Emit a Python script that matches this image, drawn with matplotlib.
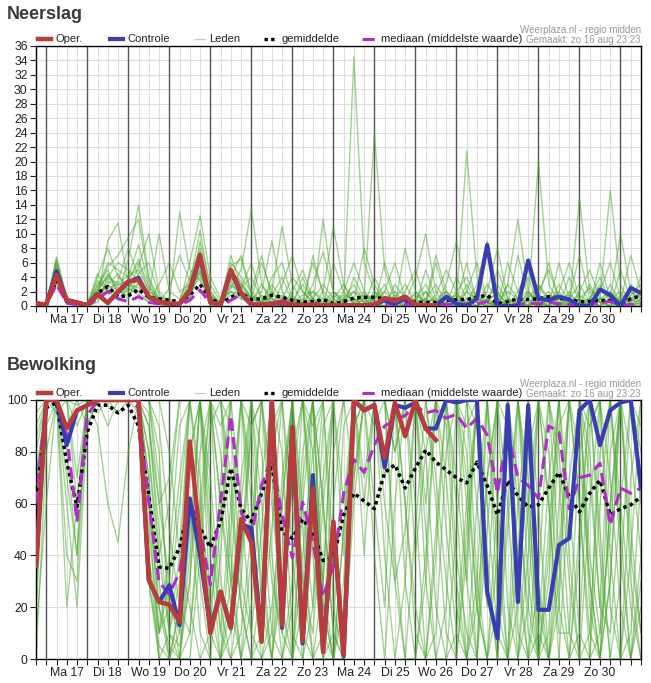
import numpy as np
import matplotlib.pyplot as plt
from matplotlib.lines import Line2D

plt.rcParams['font.family'] = ['Liberation Sans', 'DejaVu Sans']

W, H = 651, 683

# 6-hourly steps, t in days counted from ma 17 aug 00:00
steps = np.arange(60)
t = -0.25 + 0.25 * steps

day_labels = ["Ma 17", "Di 18", "Wo 19", "Do 20", "Vr 21", "Za 22", "Zo 23",
              "Ma 24", "Di 25", "Wo 26", "Do 27", "Vr 28", "Za 29", "Zo 30"]

# ---- Neerslag (mm) ----
rain_oper = [0.4, 0.2, 4.3, 0.8, 0.5, 0.1, 1.65, 0.4, 2.0, 3.4,
             3.6, 1.3, 0.6, 0.35, 0.3, 2.2, 7.1, 0.5, 0.2, 5.0,
             1.8, 0.2, 0.2, 0.3, 0.5, 0.2, 0.1, 0.2, 0.1, 0.1,
             0.1, 0.1, 0.1, 0.2, 1.1, 0.7, 1.3, 0.2, 0.1, 0.1]
rain_ctrl = [0.3, 0.2, 4.8, 0.8, 0.5, 0.1, 1.6, 0.5, 1.9, 3.3,
             3.9, 1.2, 0.6, 0.3, 0.3, 2.0, 6.8, 0.5, 0.2, 4.8,
             1.7, 0.2, 0.2, 0.3, 0.4, 0.2, 0.1, 0.2, 0.1, 0.1,
             0.1, 0.1, 0.1, 0.2, 0.8, 0.3, 1.0, 0.1, 0.1, 0.0,
             1.3, 0.3, 0.0, 1.0, 8.45, 0.0, 0.0, 0.0, 6.3, 1.0,
             0.8, 1.3, 0.9, 0.0, 0.0, 2.3, 1.5, 0.0, 2.5, 1.8]
rain_mean = [0.3, 0.3, 3.5, 0.6, 0.4, 0.2, 1.8, 2.7, 1.3, 1.4,
             2.3, 1.2, 1.0, 0.8, 0.6, 1.5, 3.0, 1.0, 0.3, 1.2,
             1.8, 0.9, 1.0, 1.5, 1.2, 0.8, 0.5, 0.6, 0.9, 0.3,
             0.6, 1.1, 1.2, 1.2, 1.0, 0.9, 0.7, 0.5, 0.5, 0.5,
             0.8, 0.9, 0.9, 1.2, 1.5, 0.3, 0.6, 1.0, 0.9, 1.0,
             1.3, 1.1, 0.9, 0.6, 0.6, 0.8, 0.7, 0.3, 1.0, 1.4]
rain_median = [0.1, 0.1, 3.0, 0.4, 0.2, 0.0, 1.0, 2.0, 1.0, 0.6,
               1.3, 0.5, 0.3, 0.2, 0.1, 0.8, 2.2, 0.4, 0.0, 0.8,
               1.6, 0.4, 0.2, 0.5, 0.7, 0.3, 0.1, 0.1, 0.2, 0.1,
               0.1, 0.2, 0.2, 0.2, 0.3, 0.2, 0.3, 0.1, 0.1, 0.1,
               0.2, 0.2, 0.3, 0.3, 0.6, 0.1, 0.1, 0.2, 0.4, 0.3,
               0.5, 0.3, 0.2, 0.2, 0.1, 0.5, 0.6, 0.1, 0.2, 0.3]
rain_members = [
    "0.3 0.2 5.5 0.8 0.3 0.0 2.0 4.5 2.0 1.5 3.0 1.0 0.5 0.2 0.0 1.5 6.0 1.0 0.0 3.0 2.0 1.0 0.5 3.0 1.0 0.0 0.5 2.0 1.0 0.0 0.5 34.5 6.0 2.0 1.0 0.5 0.0 1.0 3.0 0.5 0.0 2.0 4.0 1.0 0.5 0.0 3.0 1.0 0.0 2.0 5.0 1.0 0.5 0.0 1.0 3.0 0.5 0.0 2.0 1.0",
    "0.5 0.4 6.5 1.0 0.2 0.1 1.0 9.0 11.5 3.0 2.0 0.5 0.2 0.0 0.5 3.0 10.5 2.0 0.1 4.0 7.0 2.0 0.5 0.0 1.0 4.0 2.0 0.5 0.0 0.0 1.0 3.0 0.5 0.0 2.0 6.0 1.0 0.0 0.0 0.5 2.0 0.5 21.5 4.0 1.0 0.0 0.0 2.0 5.0 1.0 0.0 0.0 1.0 3.0 0.5 0.0 1.0 2.0 0.0 0.5",
    "0.2 0.1 4.0 0.5 0.2 0.0 3.0 5.0 1.5 6.5 14.0 4.0 1.0 0.2 0.0 2.0 5.0 0.5 0.0 2.5 5.0 13.5 3.0 1.0 0.0 0.0 0.5 6.0 2.0 0.5 0.0 0.0 1.0 24.0 5.0 1.0 0.0 0.0 2.0 0.0 0.5 1.0 0.0 0.0 3.0 1.0 0.0 0.0 1.0 20.0 3.0 0.5 0.0 1.0 0.0 2.0 6.0 1.0 0.0 0.0",
    "0.4 0.3 6.0 0.6 0.4 0.2 4.5 2.0 3.5 8.0 4.0 1.5 10.0 2.0 1.0 4.0 8.0 1.5 0.5 5.0 3.0 1.0 6.0 2.0 11.0 3.0 0.5 0.0 12.0 2.0 0.5 1.0 0.0 2.0 0.5 0.0 8.0 2.0 0.5 0.0 0.0 4.0 1.0 0.0 0.5 2.0 0.0 7.0 1.0 0.0 0.5 2.0 0.0 15.0 2.0 0.5 0.0 0.0 3.0 1.0",
    "0.1 0.0 3.5 0.3 0.1 0.0 1.5 3.0 4.5 2.0 5.5 10.0 2.0 0.5 13.0 5.0 3.5 0.8 0.2 1.5 2.5 4.0 1.0 0.0 3.0 7.0 2.0 0.5 0.0 1.0 3.0 1.0 0.0 0.0 1.0 2.0 0.5 4.0 10.0 2.0 0.0 0.0 2.0 6.0 1.0 0.0 0.0 0.5 1.0 3.0 1.0 0.0 4.0 0.5 0.0 1.0 16.0 3.0 0.0 0.5",
    "0.6 0.3 5.0 0.7 0.3 0.0 2.5 6.0 5.0 4.0 8.5 3.0 0.5 0.0 0.3 3.5 7.0 2.0 0.3 6.0 4.0 2.0 7.0 1.0 0.0 0.5 3.0 1.0 0.0 6.0 2.0 0.5 0.0 1.0 3.0 0.0 0.0 1.0 0.0 0.0 3.0 9.0 2.0 0.5 0.0 5.0 1.0 0.0 0.0 1.0 0.0 6.0 1.0 0.0 0.5 0.0 2.0 0.5 7.0 2.0",
    "0.2 0.2 4.5 0.9 0.5 0.1 1.8 2.5 3.0 3.5 6.0 2.0 1.0 1.0 0.0 2.5 4.5 1.0 0.0 2.0 1.5 0.5 0.0 4.0 6.0 1.0 0.0 0.0 2.0 11.0 3.0 0.0 2.0 0.5 0.0 1.0 3.0 0.5 0.0 6.0 1.0 0.0 0.5 3.0 9.0 2.0 0.0 0.0 2.0 0.5 0.0 3.0 0.5 0.0 1.0 4.0 0.5 0.0 0.0 2.0",
    "0.3 0.1 6.8 1.2 0.4 0.0 0.5 4.0 6.0 5.0 3.5 1.0 0.3 0.1 0.5 1.0 9.0 3.0 0.5 7.0 2.5 6.0 1.0 0.5 0.0 2.0 5.0 1.0 0.0 0.5 0.0 4.0 1.0 0.0 0.0 3.0 1.0 0.0 5.0 1.0 0.0 0.5 6.0 0.5 0.0 0.0 3.0 12.0 2.0 0.0 1.0 0.0 0.0 2.0 5.0 1.0 0.0 1.0 0.5 4.0",
    "0.0 0.1 3.0 0.4 0.2 0.1 3.5 2.0 1.0 2.5 1.5 0.5 3.0 6.0 2.0 3.0 6.5 1.5 0.2 3.5 1.0 0.3 0.0 1.5 4.0 0.5 0.0 7.0 1.5 0.0 1.0 2.0 0.5 0.0 6.0 1.5 0.0 0.0 1.0 3.0 0.5 0.0 1.0 0.0 2.0 8.0 1.0 0.0 0.0 1.0 6.0 1.0 0.0 0.0 3.0 0.5 0.0 5.0 1.0 0.0",
    "0.4 0.2 5.8 0.6 0.3 0.0 2.2 5.5 7.0 9.5 12.0 3.5 0.8 0.3 0.1 2.0 4.0 0.5 0.0 4.5 3.5 1.0 2.0 9.0 2.0 0.0 0.0 1.0 3.0 1.0 0.0 0.5 8.0 3.0 0.5 0.0 2.0 5.0 0.5 0.0 0.0 1.0 0.0 2.0 0.5 0.0 6.0 2.0 0.0 0.5 2.0 0.0 1.0 7.0 1.0 0.0 3.0 0.5 0.0 1.0",
    "0.2 0.3 4.8 0.5 0.2 0.0 1.2 3.5 2.5 1.0 4.5 6.0 1.5 0.5 0.2 6.0 12.5 4.0 1.0 2.0 1.0 0.5 3.0 0.5 0.0 1.5 0.0 3.0 7.5 2.0 0.5 0.0 0.0 4.0 1.0 0.0 0.0 2.0 0.5 7.0 2.0 0.0 3.0 0.5 0.0 1.0 0.0 0.5 4.0 0.0 0.0 2.0 6.0 1.0 0.0 0.0 1.0 10.0 2.0 0.5",
    "0.5 0.2 5.2 0.8 0.3 0.1 4.0 8.0 4.0 3.0 2.5 1.5 0.5 2.5 7.0 3.5 6.0 1.2 0.2 5.5 6.5 1.5 0.5 2.0 0.5 0.0 4.0 0.5 0.0 0.0 2.0 6.0 2.0 0.0 0.0 0.5 1.0 0.0 0.0 1.5 5.0 2.0 0.0 0.0 1.0 3.0 0.5 0.0 0.0 3.0 0.5 0.0 2.0 0.0 0.0 6.0 1.0 0.0 1.5 3.0",
    "0.3 0.2 4.2 0.7 0.3 0.1 1.6 2.8 2.2 2.0 3.2 1.2 0.6 0.3 0.4 1.8 5.5 1.0 0.2 3.8 2.2 0.8 0.4 0.5 1.5 0.5 1.0 0.5 0.5 2.0 1.0 0.5 1.5 0.5 0.0 0.5 1.5 0.5 1.0 0.5 0.5 1.5 0.5 1.0 0.5 0.0 1.0 0.5 1.5 1.0 0.5 1.0 0.5 0.5 1.0 0.5 1.0 0.5 1.0 0.5",
    "0.2 0.1 5.0 0.9 0.2 0.0 2.8 3.8 3.2 4.2 5.0 2.2 0.8 0.4 0.2 2.6 7.5 1.4 0.1 4.6 3.0 1.2 0.8 1.0 0.5 1.0 0.5 0.0 1.0 0.5 1.5 1.0 0.5 1.0 2.0 0.5 0.0 1.0 2.0 0.5 1.0 0.5 2.0 1.0 0.0 0.5 2.0 1.0 0.5 0.0 1.5 0.5 0.0 1.0 2.5 0.5 0.0 1.5 0.5 2.0",
    "0.4 0.3 6.2 0.6 0.3 0.0 1.4 2.2 1.8 2.6 4.0 1.6 0.4 0.2 0.1 1.2 4.8 0.7 0.1 2.8 1.8 0.6 1.5 0.5 0.0 0.5 1.5 2.0 0.5 0.0 0.5 2.0 1.0 0.0 0.5 1.5 0.5 0.0 0.5 1.0 2.0 0.5 0.0 1.5 0.5 0.0 0.5 1.0 2.0 0.5 0.0 1.0 1.5 0.5 0.0 1.0 2.0 0.5 0.0 1.0",
    "0.1 0.0 3.8 0.4 0.1 0.0 2.0 4.2 2.8 3.6 6.5 2.6 1.0 0.4 0.3 2.2 6.8 1.2 0.2 4.2 2.6 1.0 0.5 1.5 1.0 0.0 0.5 1.0 0.0 1.5 0.5 0.0 1.0 1.5 0.5 0.0 1.0 1.5 0.5 0.0 1.0 1.5 0.5 0.0 1.0 1.5 0.5 1.0 0.0 1.5 1.0 0.0 0.5 1.5 0.5 1.0 0.5 0.0 1.0 1.5",
]

# ---- Bewolking (%) ----
cloud_oper = [36, 100, 100, 89, 96, 98, 100, 100, 100, 100,
              100, 30.5, 22, 21, 14.3, 84, 47, 10, 26, 12,
              54, 45, 6.6, 100, 13, 89.6, 7, 66, 2.7, 53,
              1.5, 100, 96, 98, 77.6, 99, 86, 100, 89, 84.5]
cloud_ctrl = [36, 100, 100, 82.6, 96, 98, 100, 100, 100, 100,
              100, 30.5, 22, 28.5, 13, 62, 40, 12, 26, 12,
              52, 50.6, 8, 100, 12, 89.6, 6, 71, 2.7, 53,
              1, 100, 96, 98, 74, 98, 97, 99, 89, 89,
              100, 99, 100, 100, 26, 8, 98, 22, 98, 19,
              19, 44, 46.6, 96, 100, 82.6, 96, 99, 100, 66]
cloud_mean = [59.5, 97, 99, 76, 58.7, 87.6, 98, 98, 95, 98,
              90, 63, 35.5, 35, 43, 60.6, 50.6, 43, 53, 73.7,
              58, 53, 64, 75, 49, 46.6, 54, 49, 38, 39,
              55.6, 64, 61, 58, 72, 75, 66, 73.7, 80.7, 76,
              73, 70, 68, 76, 67, 55.6, 69, 63, 58.7, 59.5,
              66, 72, 62.6, 56.8, 64, 69, 55.6, 58, 59.5, 62.6]
cloud_median = [60, 100, 100, 86.5, 53, 94, 100, 100, 100, 100,
                97, 60.6, 29.7, 25, 33.6, 60.6, 50, 28.6, 60.6, 94,
                56.8, 48, 67, 77.6, 55.6, 39, 60.6, 45, 24, 36,
                64, 77, 72, 82.6, 90, 92, 94, 98, 95, 96,
                93, 94.5, 89, 93, 86.5, 64, 87.6, 70, 67, 62,
                90, 87.6, 58, 70, 71, 75.6, 51.7, 66, 64, 66]
cloud_members = [
    "10 60 100 100 98 100 100 100 100 100 100 95 40 10 5 30 80 100 60 20 0 40 100 70 10 0 60 100 30 0 20 90 100 100 100 80 100 100 60 100 100 100 70 20 0 40 100 100 60 10 0 30 100 100 70 20 100 100 80 40",
    "40 100 100 60 20 90 100 100 100 100 100 60 20 0 10 80 100 40 0 30 100 90 20 0 40 100 100 50 0 10 90 100 70 100 100 100 60 20 0 50 100 100 100 90 30 0 60 100 100 20 0 40 100 100 100 50 0 30 100 100",
    "80 100 95 100 100 100 100 100 100 100 95 30 5 0 20 60 10 0 40 100 100 60 10 50 100 100 30 0 0 60 100 100 100 60 20 100 100 100 100 70 30 0 50 100 100 100 20 0 40 100 100 70 10 0 60 100 100 40 0 20",
    "60 100 100 100 70 100 100 90 100 100 100 100 60 30 0 0 40 90 100 60 20 0 10 80 100 40 0 20 90 100 100 70 100 100 40 0 30 100 100 100 100 60 0 0 70 100 100 100 30 0 40 100 100 80 30 0 60 100 100 70",
    "20 90 100 40 30 100 100 100 95 100 100 70 10 20 60 100 100 60 10 0 30 90 100 100 20 0 40 80 100 20 0 60 100 100 100 100 100 40 80 100 50 10 0 60 100 100 60 0 20 100 100 100 40 0 10 80 100 100 50 10",
    "90 100 100 90 100 100 100 100 100 100 100 40 0 10 40 20 0 10 70 100 60 10 0 20 60 100 100 80 20 0 50 100 100 90 100 100 100 100 30 0 20 100 100 100 40 0 0 60 100 100 60 0 0 50 100 100 70 20 0 40",
    "50 100 100 100 100 100 90 60 45 80 100 100 90 50 20 10 60 100 100 40 0 20 70 100 100 60 10 0 30 100 100 100 40 100 100 100 100 60 0 10 80 100 100 30 0 20 100 100 70 0 10 90 100 100 20 0 30 100 100 90",
    "70 100 100 20 60 100 100 100 100 100 100 80 30 0 0 50 100 100 30 10 60 100 40 0 0 30 100 100 60 10 0 100 100 100 70 100 30 0 40 100 100 100 30 0 50 100 100 30 0 60 100 100 100 60 0 10 80 100 30 0",
    "30 100 100 100 90 100 100 100 100 100 100 90 50 10 30 100 70 10 0 50 100 100 60 10 0 20 80 100 100 40 10 90 100 100 100 30 0 50 100 100 100 40 10 0 100 100 90 10 0 30 100 100 60 10 0 100 100 100 40 10",
    "100 100 100 100 100 100 100 100 100 100 100 50 10 40 90 100 100 70 20 0 10 50 100 100 80 10 0 50 100 100 40 100 100 100 100 100 100 100 100 60 10 0 40 100 100 60 0 0 60 100 80 20 0 40 100 100 40 0 10 70",
    "0 80 100 80 40 100 100 100 100 100 100 70 20 5 0 40 100 100 80 30 0 0 30 90 100 100 50 0 10 80 100 100 60 100 100 80 100 100 100 100 90 30 0 20 70 100 100 70 10 0 50 100 100 100 30 0 60 100 100 100",
    "60 100 100 100 100 90 100 100 100 100 100 100 70 20 10 60 30 0 0 20 70 100 100 40 0 0 70 100 60 10 0 70 100 100 100 100 100 100 50 0 0 50 100 100 100 20 0 40 100 100 100 40 0 10 90 100 100 50 0 30",
    "85 100 100 100 100 100 95 100 100 100 100 30 0 0 20 80 100 50 10 60 100 100 80 30 10 70 100 40 0 0 50 100 100 100 100 100 60 10 0 40 100 100 80 20 0 0 50 100 100 60 0 0 70 100 100 100 20 0 40 100",
    "45 100 100 70 40 100 100 100 100 100 100 100 100 80 40 100 100 100 60 30 40 90 100 60 20 100 100 100 10 0 30 100 100 100 100 100 100 100 100 100 70 20 0 30 100 100 100 60 20 0 0 60 100 100 40 10 50 100 100 80",
    "95 100 100 100 100 100 100 100 100 100 100 80 40 60 100 100 100 20 0 10 40 100 100 100 50 0 20 100 100 100 60 100 100 100 60 30 50 100 100 100 100 100 100 100 60 10 0 20 80 100 100 80 30 0 0 60 100 100 100 60",
    "70 100 100 100 100 100 100 100 100 100 100 60 0 0 0 30 100 100 100 70 20 0 0 10 70 100 100 60 30 100 100 100 100 100 100 40 0 0 30 100 100 100 60 0 0 60 100 100 100 30 0 20 100 100 100 40 0 0 70 100",
    "35 100 100 100 60 100 100 100 100 100 100 100 80 10 0 10 50 100 100 100 100 40 0 0 60 100 60 20 70 100 100 100 100 40 0 60 100 100 100 100 100 70 30 100 100 40 0 100 100 100 60 10 10 80 100 100 100 60 20 0",
    "55 100 100 100 100 100 100 100 100 100 100 40 10 30 70 100 60 20 50 100 100 70 30 0 30 80 100 100 20 0 0 100 100 100 100 100 100 100 100 100 100 100 100 60 20 100 100 40 0 10 70 100 100 100 80 20 10 60 100 100",
    "20 100 100 100 100 100 100 100 100 100 100 90 60 70 100 100 100 100 100 90 30 10 50 100 100 100 30 10 60 100 100 100 100 100 100 100 100 100 80 20 0 10 60 100 100 100 100 100 50 0 30 100 100 60 10 0 30 100 100 100",
    "65 100 100 100 100 100 100 100 100 100 100 100 100 100 100 100 100 100 90 100 100 100 100 100 100 100 100 90 100 100 100 100 100 100 100 100 100 100 100 100 100 100 90 100 100 100 100 100 100 100 100 100 100 100 90 100 100 100 100 100",
]

RED = '#b93b3b'
BLUE = '#3a3cb4'
GREEN = '#4aa82c'
MAGENTA = '#b02ec8'


def fpos(x, y):
    return x / W, 1 - y / H


def draw_panel(ax, members, mean, median, ctrl, oper, ymax, ystep):
    for m in members:
        vals = [float(v) for v in m.split()]
        ax.plot(t, vals, color=GREEN, lw=1.0, alpha=0.5, zorder=2)
    ax.plot(t, mean, color='black', lw=2.5, ls=(0, (1, 1)), zorder=3)
    ax.plot(t, median, color=MAGENTA, lw=2.2, ls=(0, (4, 2)), zorder=4)
    ax.plot(t, ctrl, color=BLUE, lw=3.0, zorder=5)
    ax.plot(t[:len(oper)], oper, color=RED, lw=3.2, zorder=6)
    for d in range(15):
        ax.axvline(d, color='#555555', lw=1.0, zorder=1.5)
    ax.set_xlim(-0.25, 14.5)
    ax.set_ylim(0, ymax)
    ax.set_yticks(np.arange(0, ymax + 1, ystep))
    ax.set_xticks(np.arange(14) + 0.5)
    ax.set_xticklabels(day_labels)
    ax.set_xticks(np.arange(-0.25, 14.51, 0.25), minor=True)
    ax.grid(True, which='both', color='#dddddd', lw=0.8, zorder=0)
    ax.set_axisbelow(True)
    ax.tick_params(which='both', direction='out', length=4, width=0.8,
                   labelsize=8.8, pad=2, colors='#222222')
    for s in ax.spines.values():
        s.set_linewidth(1.0)
        s.set_color('black')


def draw_header(fig, title, title_y, axes_top):
    x, y = fpos(7, title_y)
    fig.text(x, y, title, fontsize=13, fontweight='bold', color='#3a3a3a',
             va='baseline', ha='left')
    ly = axes_top - 7
    items = [
        (38, 51, dict(color=RED, lw=3.2), "Oper."),
        (110, 123, dict(color=BLUE, lw=3.0), "Controle"),
        (195, 205, dict(color='#b9d6b0', lw=0.9), "Leden"),
        (264, 277, dict(color='black', lw=2.4, ls=(0, (1, 1))), "gemiddelde"),
        (362, 377, dict(color=MAGENTA, lw=2.2, ls=(0, (4, 2))), "mediaan (middelste waarde)"),
    ]
    for x0, x1, style, label in items:
        a = fpos(x0, ly)
        b = fpos(x1, ly)
        fig.add_artist(Line2D([a[0], b[0]], [a[1], b[1]], **style))
        tx, ty = fpos(x1 + 4, ly)
        fig.text(tx, ty, label, fontsize=8.0, color='#222222', va='center', ha='left')
    rx, ry = fpos(641, axes_top - 16)
    fig.text(rx, ry, "Weerplaza.nl - regio midden", fontsize=7, color='#999999',
             va='center', ha='right')
    rx, ry = fpos(641, axes_top - 6)
    fig.text(rx, ry, "Gemaakt: zo 16 aug 23:23", fontsize=7, color='#999999',
             va='center', ha='right')


fig = plt.figure(figsize=(W / 100, H / 100), dpi=100)

left, width = 36 / W, 605 / W
ax1 = fig.add_axes([left, (H - 306) / H, width, 260 / H])
ax2 = fig.add_axes([left, (H - 659) / H, width, 259 / H])

draw_panel(ax1, rain_members, rain_mean, rain_median, rain_ctrl, rain_oper, 36, 2)
draw_panel(ax2, cloud_members, cloud_mean, cloud_median, cloud_ctrl, cloud_oper, 100, 20)

draw_header(fig, "Neerslag", 19, 46)
draw_header(fig, "Bewolking", 370, 400)

fig.savefig('out.png', dpi=100)
